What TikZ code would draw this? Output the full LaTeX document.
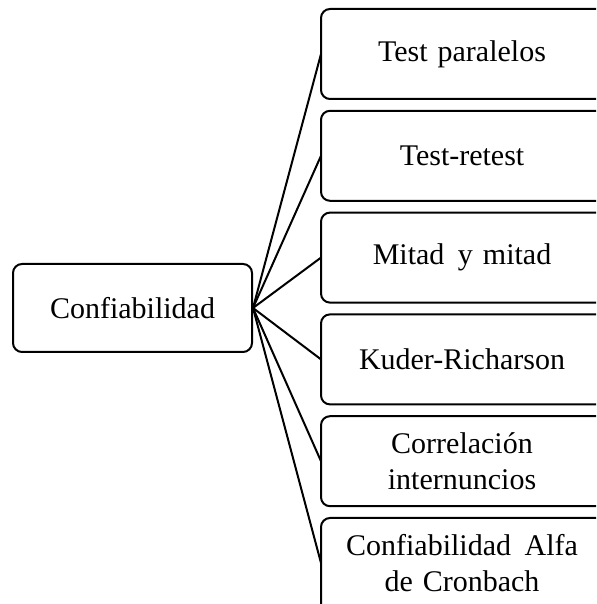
\documentclass[tikz,border=0pt]{standalone}
\usepackage{fontspec}
\setmainfont{Liberation Serif}
\begin{document}
\begin{tikzpicture}[x=1pt,y=1pt,
  box/.style={draw=black, line width=2pt, rounded corners=9pt, fill=white,
    minimum height=88pt, align=center, inner sep=2pt,
    font=\fontsize{30}{36}\selectfont},
  rbox/.style={box, draw=none, fill=none, minimum width=280pt, text width=270pt},
  frame/.style={draw=black, line width=2pt, rounded corners=9pt},
  link/.style={draw=black, line width=2pt}]
\useasboundingbox (0,0) rectangle (596,604);
\clip (0,0) rectangle (596,604);
\node[box, minimum width=239pt] (root) at (132.5,296) {Confiabilidad};
\node[rbox] (b1) at (462,550) {Test paralelos};
\node[rbox] (b2) at (462,448.2) {Test-retest};
\node[rbox] (b3) at (462,346.4) {Mitad\hspace{0.45em}y mitad};
\node[rbox] (b4) at (462,244.6) {Kuder-Richarson};
\node[rbox] (b5) at (462,142.8) {Correlación\\internuncios};
\node[rbox] (b6) at (462,41) {Confiabilidad\hspace{0.45em}Alfa\\de Cronbach};
\foreach \b in {b1,b2,b3,b4,b5}
  \draw[frame] (\b.north west) rectangle ([xshift=12pt]\b.south east);
\draw[frame] (b6.north west) rectangle ([xshift=12pt,yshift=-40pt]b6.south east);
\foreach \b in {b1,b2,b3,b4,b5,b6}
  \draw[link] (root.east) -- (\b.west);
\end{tikzpicture}
\end{document}
